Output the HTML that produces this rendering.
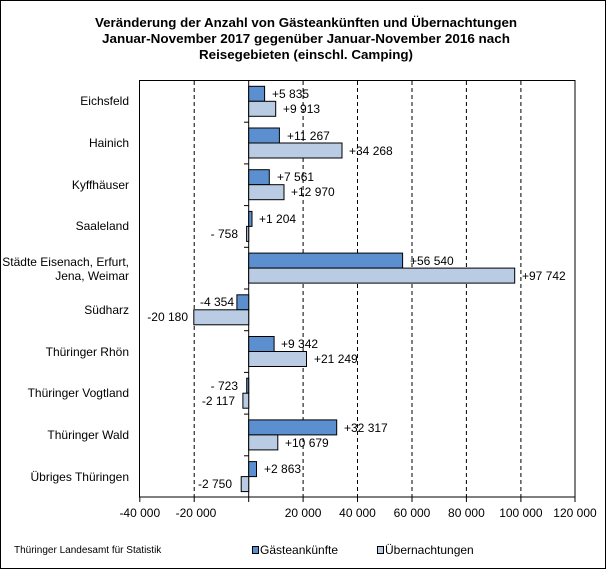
<!DOCTYPE html>
<html><head><meta charset="utf-8"><style>
html,body{margin:0;padding:0;background:#fff}
svg{display:block;font-family:"Liberation Sans",Arial,sans-serif}
</style></head><body>
<svg width="606" height="569" viewBox="0 0 606 569">
<rect x="0.5" y="0.5" width="605" height="568" fill="#fff" stroke="#000"/>
<g font-weight="bold" font-size="13" text-anchor="middle" fill="#000">
<text x="306" y="27" textLength="422" lengthAdjust="spacingAndGlyphs">Veränderung der Anzahl von Gästeankünften und Übernachtungen</text>
<text x="306" y="43" textLength="408" lengthAdjust="spacingAndGlyphs">Januar-November 2017 gegenüber  Januar-November 2016 nach</text>
<text x="306" y="59" textLength="214" lengthAdjust="spacingAndGlyphs">Reisegebieten (einschl. Camping)</text>
</g>
<!-- plot frame -->
<rect x="139.5" y="80.5" width="435.5" height="416.5" fill="none" stroke="#000"/>
<g stroke="#000" stroke-dasharray="4,3">
<line x1="194.2" y1="81" x2="194.2" y2="497"/>
<line x1="303.1" y1="81" x2="303.1" y2="497"/>
<line x1="357.5" y1="81" x2="357.5" y2="497"/>
<line x1="412" y1="81" x2="412" y2="497"/>
<line x1="466.4" y1="81" x2="466.4" y2="497"/>
<line x1="520.9" y1="81" x2="520.9" y2="497"/>
</g>
<g stroke="#000">
<line x1="248.7" y1="80" x2="248.7" y2="497"/>
<line x1="244" y1="122.2" x2="248.7" y2="122.2"/><line x1="244" y1="163.9" x2="248.7" y2="163.9"/>
<line x1="244" y1="205.6" x2="248.7" y2="205.6"/><line x1="244" y1="247.3" x2="248.7" y2="247.3"/>
<line x1="244" y1="289" x2="248.7" y2="289"/><line x1="244" y1="330.7" x2="248.7" y2="330.7"/>
<line x1="244" y1="372.4" x2="248.7" y2="372.4"/><line x1="244" y1="414.1" x2="248.7" y2="414.1"/>
<line x1="244" y1="455.8" x2="248.7" y2="455.8"/>
<line x1="139.8" y1="497" x2="139.8" y2="502"/><line x1="194.2" y1="497" x2="194.2" y2="502"/>
<line x1="248.7" y1="497" x2="248.7" y2="502"/><line x1="303.1" y1="497" x2="303.1" y2="502"/>
<line x1="357.5" y1="497" x2="357.5" y2="502"/><line x1="412" y1="497" x2="412" y2="502"/>
<line x1="466.4" y1="497" x2="466.4" y2="502"/><line x1="520.9" y1="497" x2="520.9" y2="502"/>
<line x1="575" y1="497" x2="575" y2="502"/>
</g>
<g font-size="12" text-anchor="middle" fill="#000">
<text x="139.8" y="517">-40 000</text><text x="196" y="517">-20 000</text>
<text x="303.1" y="517">20 000</text><text x="357.5" y="517">40 000</text>
<text x="412" y="517">60 000</text><text x="466.4" y="517">80 000</text>
<text x="520.9" y="517">100 000</text><text x="575" y="517">120 000</text>
</g>
<g font-size="12" text-anchor="end" fill="#000">
<text x="129" y="105">Eichsfeld</text>
<text x="129" y="147">Hainich</text>
<text x="129" y="189">Kyffhäuser</text>
<text x="129" y="230">Saaleland</text>
<text x="129" y="266">Städte Eisenach, Erfurt,</text>
<text x="129" y="280">Jena, Weimar</text>
<text x="129" y="314">Südharz</text>
<text x="129" y="356">Thüringer Rhön</text>
<text x="129" y="397">Thüringer Vogtland</text>
<text x="129" y="439">Thüringer Wald</text>
<text x="129" y="481">Übriges Thüringen</text>
</g>
<g stroke="#000" stroke-width="1">
<!-- G bars: top = 80+41.7k+6.3 ; U bars top +15 -->
<rect x="248.7" y="86.3" width="15.9" height="15" fill="#5b8fd0"/>
<rect x="248.7" y="101.3" width="27" height="15" fill="#b9cce4"/>
<rect x="248.7" y="128" width="30.7" height="15" fill="#5b8fd0"/>
<rect x="248.7" y="143" width="93.3" height="15" fill="#b9cce4"/>
<rect x="248.7" y="169.7" width="20.6" height="15" fill="#5b8fd0"/>
<rect x="248.7" y="184.7" width="35.3" height="15" fill="#b9cce4"/>
<rect x="248.7" y="211.4" width="3.3" height="15" fill="#5b8fd0"/>
<rect x="246.6" y="226.4" width="2.1" height="15" fill="#b9cce4"/>
<rect x="248.7" y="253.1" width="153.9" height="15" fill="#5b8fd0"/>
<rect x="248.7" y="268.1" width="266" height="15" fill="#b9cce4"/>
<rect x="236.9" y="294.8" width="11.8" height="15" fill="#5b8fd0"/>
<rect x="193.8" y="309.8" width="54.9" height="15" fill="#b9cce4"/>
<rect x="248.7" y="336.5" width="25.4" height="15" fill="#5b8fd0"/>
<rect x="248.7" y="351.5" width="57.8" height="15" fill="#b9cce4"/>
<rect x="246.7" y="378.2" width="2" height="15" fill="#5b8fd0"/>
<rect x="242.9" y="393.2" width="5.8" height="15" fill="#b9cce4"/>
<rect x="248.7" y="419.9" width="88" height="15" fill="#5b8fd0"/>
<rect x="248.7" y="434.9" width="29.1" height="15" fill="#b9cce4"/>
<rect x="248.7" y="461.6" width="7.8" height="15" fill="#5b8fd0"/>
<rect x="241.2" y="476.6" width="7.5" height="15" fill="#b9cce4"/>
</g>
<g font-size="12" fill="#000">
<text x="272" y="98">+5 835</text><text x="283" y="113">+9 913</text>
<text x="287" y="140">+11 267</text><text x="349" y="155">+34 268</text>
<text x="277" y="181">+7 561</text><text x="291" y="196">+12 970</text>
<text x="259" y="223">+1 204</text>
<text x="410" y="265">+56 540</text><text x="522" y="280">+97 742</text>
<text x="281" y="348">+9 342</text><text x="314" y="363">+21 249</text>
<text x="344" y="432">+32 317</text><text x="285" y="447">+10 679</text>
<text x="264" y="473">+2 863</text>
</g>
<g font-size="12" fill="#000" text-anchor="end">
<text x="238" y="238">- 758</text>
<text x="234" y="306">-4 354</text><text x="188" y="321">-20 180</text>
<text x="238" y="390">- 723</text><text x="235" y="405">-2 117</text>
<text x="232" y="488">-2 750</text>
</g>
<text x="14" y="553" font-size="10" fill="#000">Thüringer Landesamt für Statistik</text>
<rect x="252.5" y="546.5" width="6" height="7" fill="#5b8fd0" stroke="#000"/>
<text x="260" y="554" font-size="12">Gästeankünfte</text>
<rect x="377.5" y="546.5" width="6" height="7" fill="#b9cce4" stroke="#000"/>
<text x="385" y="554" font-size="12">Übernachtungen</text>
</svg>
</body></html>
